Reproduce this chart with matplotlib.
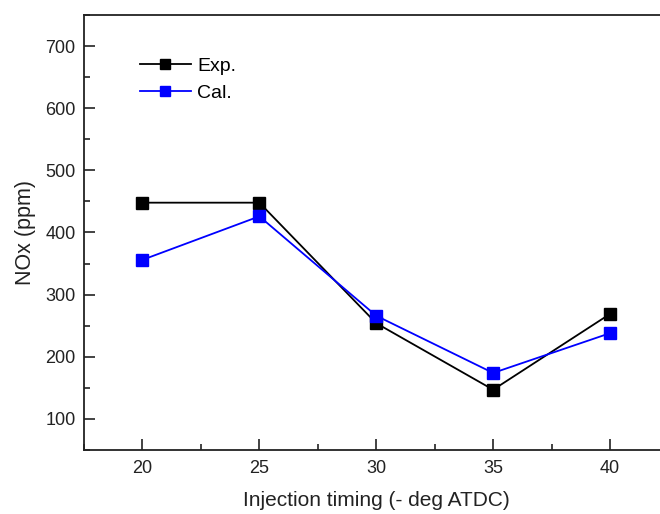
import matplotlib
matplotlib.use("Agg")
import matplotlib.pyplot as plt
from matplotlib.ticker import MultipleLocator

plt.rcParams['font.family'] = ['Liberation Sans', 'DejaVu Sans']

timing = [20, 25, 30, 35, 40]
nox_exp = [448, 448, 254, 147, 269]
nox_cal = [356, 426, 266, 174, 238]

fig = plt.figure(figsize=(6.6, 5.14), dpi=100)
# axes run past the right edge of the figure
ax = fig.add_axes([84 / 660, 64 / 514, (668.5 - 84) / 660, (450 - 15) / 514])

ax.plot(timing, nox_exp, color='black', marker='s', markersize=9, lw=1.3,
        label='Exp.')
ax.plot(timing, nox_cal, color='#0000ff', marker='s', markersize=9, lw=1.3,
        label='Cal.')

ax.set_xlim(17.5, 42.5)
ax.set_ylim(50, 750)
ax.xaxis.set_major_locator(MultipleLocator(5))
ax.xaxis.set_minor_locator(MultipleLocator(2.5))
ax.yaxis.set_major_locator(MultipleLocator(100))
ax.yaxis.set_minor_locator(MultipleLocator(50))
ax.set_yticks([100, 200, 300, 400, 500, 600, 700])

ax.tick_params(which='both', direction='in', labelsize=13, width=1.2,
               colors='#222222', labelcolor='#222222')
ax.tick_params(which='major', length=8)
ax.tick_params(which='minor', length=4)
ax.tick_params(axis='x', pad=7)
ax.tick_params(axis='y', pad=6)
for s in ax.spines.values():
    s.set_linewidth(1.3)
    s.set_color('#222222')

ax.set_xlabel('Injection timing (- deg ATDC)', fontsize=15, labelpad=10,
              color='#222222')
ax.set_ylabel('NOx (ppm)', fontsize=15.5, labelpad=7, color='#222222')

leg = ax.legend(loc='upper left', bbox_to_anchor=(0.096, 0.903), frameon=False,
                fontsize=14, handlelength=2.6, handletextpad=0.35,
                labelspacing=0.5, markerscale=0.85, borderaxespad=0,
                borderpad=0)

fig.savefig('out.png', dpi=100)
